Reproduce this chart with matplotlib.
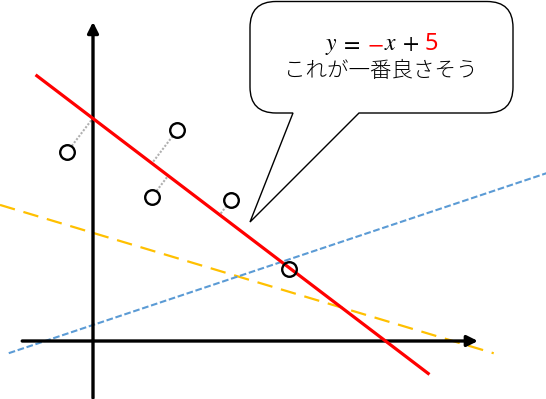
import numpy as np
import matplotlib.pyplot as plt
from matplotlib.path import Path
from matplotlib.patches import PathPatch

plt.rcParams['font.family'] = ['Noto Sans CJK JP', 'DejaVu Sans']
plt.rcParams['mathtext.fontset'] = 'stix'

# data points
px = [-0.44, 1.44, 1.01, 2.36, 3.35]
py = [4.25, 4.74, 3.24, 3.17, 1.62]

# candidate lines: slope, intercept, x range
best = (-1.0, 5.0, -0.96, 5.73)
blue = (0.44, 0.36, -1.44, 7.75)
orange = (-0.395, 2.43, -1.59, 6.85)

# equation tokens and their colours
eq_tokens = ['$y$', '$=$', '$-$', '$x$', '$+$', '5']
eq_colors = ['black', 'black', 'red', 'black', 'black', 'red']
eq_x = [331, 350, 375, 391, 410, 431]
caption = 'これが一番良さそう'

# pixel scale of one unit (x, y)
sx, sy = 58.5, 44.5

fig = plt.figure(figsize=(5.46, 3.99), dpi=100)
ax = fig.add_axes([0, 0, 1, 1])
ax.set_xlim(-93 / sx, 453 / sx)
ax.set_ylim(-58 / sy, 341 / sy)
ax.axis('off')

# axes with arrows
ax.annotate('', xy=(6.58, 0), xytext=(-1.21, 0),
            arrowprops=dict(arrowstyle='-|>', lw=2.4, color='black',
                            mutation_scale=16, shrinkA=0, shrinkB=0))
ax.annotate('', xy=(0, 7.17), xytext=(0, -1.28),
            arrowprops=dict(arrowstyle='-|>', lw=2.4, color='black',
                            mutation_scale=16, shrinkA=0, shrinkB=0))

# lines
def draw_line(ln, **kw):
    m, b, x0, x1 = ln
    xs = np.array([x0, x1])
    ax.plot(xs, m * xs + b, **kw)

draw_line(orange, color='#ffc000', lw=1.6, ls=(0, (7, 4)), zorder=2)
draw_line(blue, color='#5b9bd5', lw=1.5, ls=(0, (3.2, 1.3)), zorder=2)
draw_line(best, color='#ff0000', lw=2.3, zorder=3)

# residual segments (perpendicular in pixel space)
m, b = best[0], best[1]
d = np.array([sx, m * sy]) / np.hypot(sx, m * sy)
p0 = np.array([0.0, b * sy])
r = 7.5
for x, y in zip(px, py):
    P = np.array([x * sx, y * sy])
    F = p0 + np.dot(P - p0, d) * d
    v = F - P
    L = np.hypot(*v)
    if L <= r:
        continue
    S = P + v / L * r
    ax.plot([S[0] / sx, F[0] / sx], [S[1] / sy, F[1] / sy],
            color='#b0b0b0', lw=1.5, ls=(0, (1, 0.8)), zorder=2)

ax.plot(px, py, 'o', ms=10.5, mfc='none', mec='black', mew=1.7, zorder=4)

# speech bubble in pixel coords
ov = fig.add_axes([0, 0, 1, 1])
ov.set_xlim(0, 546)
ov.set_ylim(399, 0)
ov.axis('off')
ov.patch.set_alpha(0)
L_, R_, T_, B_, rr = 250, 513, 1.5, 113, 26
t0, t1, tip = 293, 359, (250, 222)
verts = [(L_ + rr, T_), (R_ - rr, T_), (R_, T_), (R_, T_ + rr),
         (R_, B_ - rr), (R_, B_), (R_ - rr, B_),
         (t1, B_), tip, (t0, B_),
         (L_ + rr, B_), (L_, B_), (L_, B_ - rr),
         (L_, T_ + rr), (L_, T_), (L_ + rr, T_), (L_ + rr, T_)]
codes = [Path.MOVETO, Path.LINETO, Path.CURVE3, Path.CURVE3,
         Path.LINETO, Path.CURVE3, Path.CURVE3,
         Path.LINETO, Path.LINETO, Path.LINETO,
         Path.LINETO, Path.CURVE3, Path.CURVE3,
         Path.LINETO, Path.CURVE3, Path.CURVE3, Path.CLOSEPOLY]
ov.add_patch(PathPatch(Path(verts, codes), facecolor='white',
                       edgecolor='black', lw=1.0))

for s, c, x in zip(eq_tokens, eq_colors, eq_x):
    ov.text(x, 50, s, color=c, fontsize=17, ha='center', va='baseline',
            family=['Noto Sans'] if not s.startswith('$') else None)
ov.text(381, 71, caption, fontsize=15.5, fontweight='light',
        ha='center', va='center')

fig.savefig('out.png', dpi=100)
